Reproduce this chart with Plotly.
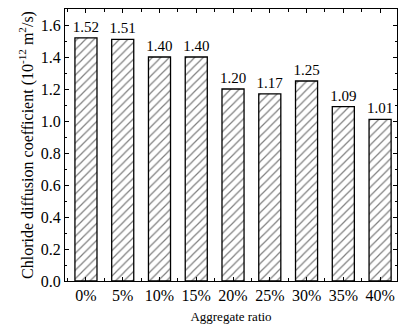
import plotly.graph_objects as go

# Aggregate replacement ratios and measured chloride diffusion coefficients
categories = ["0%", "5%", "10%", "15%", "20%", "25%", "30%", "35%", "40%"]
diffusion = [1.52, 1.51, 1.40, 1.40, 1.20, 1.17, 1.25, 1.09, 1.01]

FONT = "Liberation Serif, Times New Roman, serif"

fig = go.Figure(
    go.Bar(
        x=list(range(len(categories))),
        y=diffusion,
        width=0.6,
        marker=dict(
            color="white",
            line=dict(color="black", width=1.3),
            pattern=dict(shape="/", fgcolor="black", bgcolor="white",
                         size=6, solidity=0.2),
        ),
        text=[f"{v:.2f}" for v in diffusion],
        textposition="outside",
        constraintext="none",
        textfont=dict(family=FONT, size=15, color="black"),
        cliponaxis=False,
    )
)

fig.update_layout(
    width=398, height=329,
    margin=dict(l=65, r=1, t=9, b=48),
    plot_bgcolor="white", paper_bgcolor="white",
    showlegend=False,
    font=dict(family=FONT, size=15, color="black"),
    xaxis=dict(
        range=[-0.57, 8.46],
        tickmode="array",
        tickvals=list(range(len(categories))),
        ticktext=categories,
        ticks="inside", ticklen=4, tickcolor="black",
        minor=dict(tickmode="array",
                   tickvals=[i + 0.5 for i in range(-1, len(categories))],
                   ticks="inside", ticklen=3, tickcolor="black"),
        showline=True, linecolor="black", linewidth=1.3, mirror="ticks",
        showgrid=False, zeroline=False,
        tickfont=dict(family=FONT, size=16),
        title=dict(text="Aggregate ratio", font=dict(family=FONT, size=13),
                   standoff=8),
    ),
    yaxis=dict(
        range=[0, 1.7],
        tickmode="array",
        tickvals=[0, 0.2, 0.4, 0.6, 0.8, 1.0, 1.2, 1.4, 1.6],
        ticktext=["0.0", "0.2", "0.4", "0.6", "0.8", "1.0", "1.2", "1.4", "1.6"],
        ticks="inside", ticklen=4, tickcolor="black",
        minor=dict(dtick=0.1, ticks="inside", ticklen=2, tickcolor="black"),
        showline=True, linecolor="black", linewidth=1.3, mirror="ticks",
        showgrid=False, zeroline=False,
        tickfont=dict(family=FONT, size=16),
        title=dict(text="Chloride diffusion coefficient (10<sup>-12</sup> m<sup>2</sup>/s)",
                   font=dict(family=FONT, size=16), standoff=3),
    ),
)

fig.write_html("out.html")
